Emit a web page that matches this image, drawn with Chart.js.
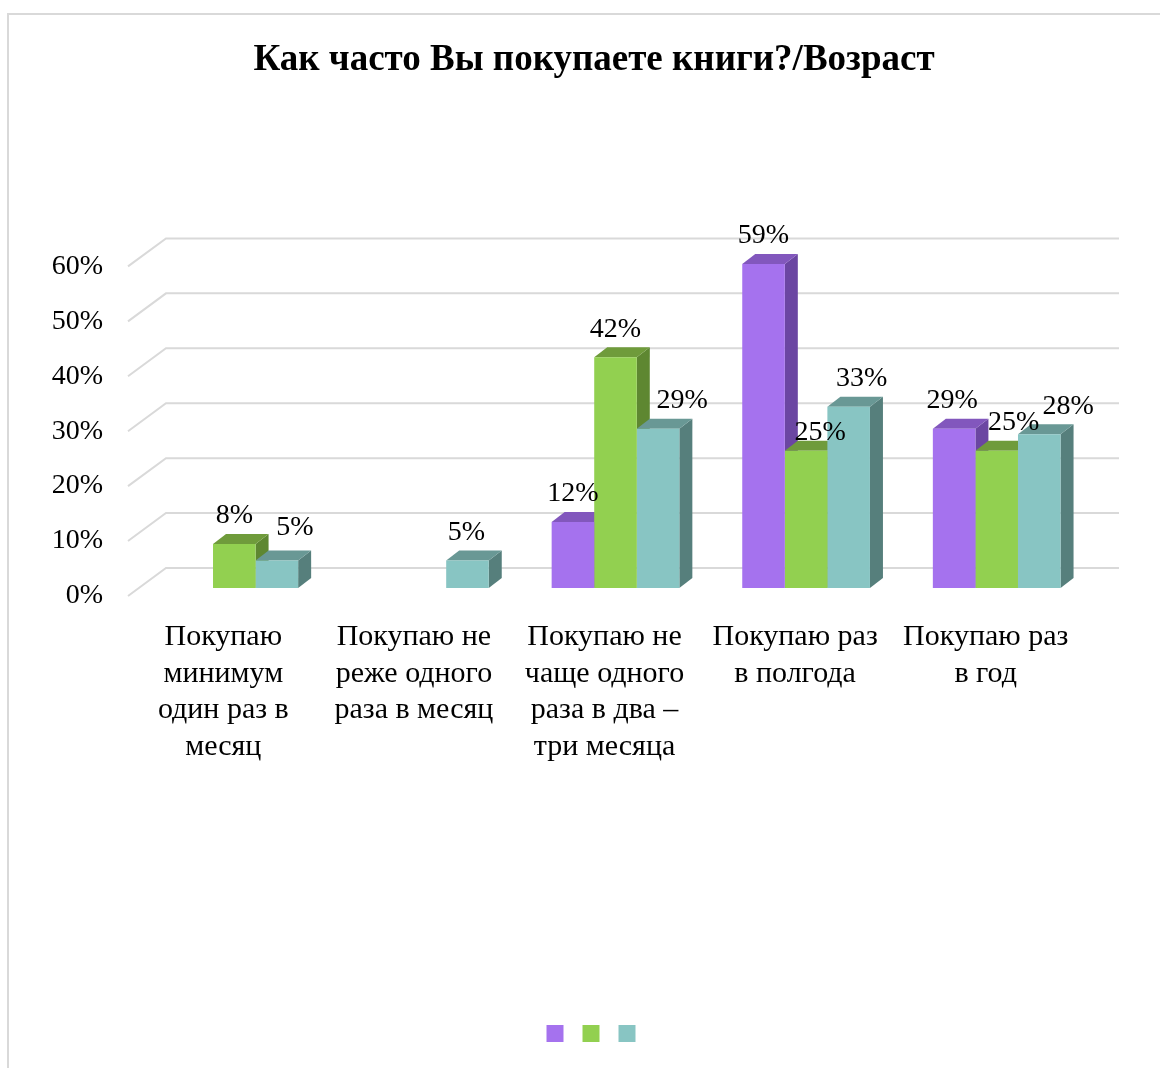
<!DOCTYPE html>
<html>
<head>
<meta charset="utf-8">
<script src="https://cdn.jsdelivr.net/npm/chart.js@4"></script>
<style>
  html, body { margin: 0; padding: 0; background: #fff; overflow: hidden; }
  #frame { position: absolute; left: 7px; top: 13px; width: 1200px; height: 1100px; border: 2px solid #d9d9d9; }
  #bookchart { position: absolute; left: 0; top: 0; }
</style>
</head>
<body>
<div id="frame"></div>
<canvas id="bookchart" width="1188" height="1068"></canvas>
<script>
var categories = [
    ["Покупаю", "минимум", "один раз в", "месяц"],
    ["Покупаю не", "реже одного", "раза в месяц"],
    ["Покупаю не", "чаще одного", "раза в два –", "три месяца"],
    ["Покупаю раз", "в полгода"],
    ["Покупаю раз", "в год"]
];
var purpleValues = [null, null, 12, 59, 29];
var greenValues = [8, null, 42, 25, 25];
var tealValues = [5, 5, 29, 33, 28];
var yTicks = [0, 10, 20, 30, 40, 50, 60];

// little nudges so neighbouring value labels don't sit on top of each other
var labelShiftX = [[0, 0, 0, 0, -2], [0, 0, 0, 14, 17], [18, -1, 24, 13, 29]];
var labelShiftY = [[0, 0, 0, 0, 0], [0, 0, 0, 10, 0], [-5, 0, 0, 0, 0]];

var serif = "'Liberation Serif', 'Times New Roman', serif";

// bar thickness and the offsets of the back wall / front floor edge
var DX = 13, DY = 10;
var BACK_X = 27, BACK_Y = 20;
var FRONT_X = 11, FRONT_Y = 8;

var boxes3d = {
    id: "boxes3d",
    beforeDatasetsDraw: function (chart) {
        var ctx = chart.ctx, area = chart.chartArea, y = chart.scales.y;
        ctx.save();
        ctx.strokeStyle = "#d9d9d9";
        ctx.lineWidth = 2;
        yTicks.forEach(function (t) {
            var py = y.getPixelForValue(t);
            ctx.beginPath();
            ctx.moveTo(area.left - FRONT_X, py + FRONT_Y);
            ctx.lineTo(area.left + BACK_X, py - BACK_Y);
            ctx.lineTo(area.right + BACK_X, py - BACK_Y);
            ctx.stroke();
        });
        for (var j = 0; j < categories.length; j++) {
            chart.data.datasets.forEach(function (ds, i) {
                if (ds.data[j] == null) return;
                var bar = chart.getDatasetMeta(i).data[j];
                var p = bar.getProps(["x", "y", "base", "width"], true);
                var l = p.x - p.width / 2, r = p.x + p.width / 2;
                ctx.fillStyle = ds.sideColor;
                ctx.beginPath();
                ctx.moveTo(r, p.y);
                ctx.lineTo(r + DX, p.y - DY);
                ctx.lineTo(r + DX, p.base - DY);
                ctx.lineTo(r, p.base);
                ctx.closePath();
                ctx.fill();
                ctx.fillStyle = ds.topColor;
                ctx.beginPath();
                ctx.moveTo(l, p.y);
                ctx.lineTo(l + DX, p.y - DY);
                ctx.lineTo(r + DX, p.y - DY);
                ctx.lineTo(r, p.y);
                ctx.closePath();
                ctx.fill();
            });
        }
        ctx.restore();
    },
    afterDatasetsDraw: function (chart) {
        var ctx = chart.ctx;
        ctx.save();
        ctx.font = "28px " + serif;
        ctx.fillStyle = "#000";
        ctx.textAlign = "center";
        ctx.textBaseline = "middle";
        chart.data.datasets.forEach(function (ds, i) {
            chart.getDatasetMeta(i).data.forEach(function (bar, j) {
                if (ds.data[j] == null) return;
                var p = bar.getProps(["x", "y"], true);
                ctx.fillText(ds.data[j] + "%", p.x + labelShiftX[i][j], p.y - 28 + labelShiftY[i][j]);
            });
        });
        ctx.restore();
    }
};

var config = {
    type: "bar",
    data: {
        labels: categories,
        datasets: [
            { label: "", data: purpleValues, backgroundColor: "#a572ee", topColor: "#8257bd", sideColor: "#6b46a2" },
            { label: "", data: greenValues, backgroundColor: "#92d050", topColor: "#6f9b3b", sideColor: "#5e8731" },
            { label: "", data: tealValues, backgroundColor: "#88c5c3", topColor: "#699895", sideColor: "#567f7c" }
        ]
    },
    options: {
        responsive: false,
        devicePixelRatio: 1,
        animation: false,
        layout: { padding: { top: 14, left: 0, right: 0, bottom: 16 } },
        datasets: { bar: { categoryPercentage: 0.67, barPercentage: 1, borderWidth: 0 } },
        scales: {
            x: {
                grid: { display: false, drawTicks: false },
                border: { display: false },
                ticks: {
                    color: "#000",
                    font: { family: serif, size: 30, lineHeight: 1.22 },
                    labelOffset: -11,
                    padding: 31,
                    maxRotation: 0,
                    autoSkip: false
                },
                afterFit: function (s) { s.height = 424; }
            },
            y: {
                min: 0,
                max: 60,
                grid: { display: false, drawTicks: false },
                border: { display: false },
                ticks: {
                    stepSize: 10,
                    color: "#000",
                    font: { family: serif, size: 28 },
                    padding: 36,
                    labelOffset: 8,
                    callback: function (v) { return v + "%"; }
                },
                afterFit: function (s) { s.width = 139; }
            },
            side: {
                type: "linear",
                position: "right",
                grid: { display: false, drawTicks: false },
                border: { display: false },
                ticks: { display: false },
                afterFit: function (s) { s.width = 96; }
            }
        },
        plugins: {
            title: {
                display: true,
                text: "Как часто Вы покупаете книги?/Возраст",
                color: "#000",
                font: { family: serif, size: 37, weight: "bold" },
                padding: { top: 24, bottom: 176 }
            },
            legend: {
                position: "bottom",
                labels: { boxWidth: 17, boxHeight: 17, padding: 13, font: { size: 12 } }
            },
            tooltip: { enabled: false }
        }
    },
    plugins: [boxes3d]
};
var bookchart = new Chart(document.getElementById("bookchart"), config);
</script>
</body>
</html>
